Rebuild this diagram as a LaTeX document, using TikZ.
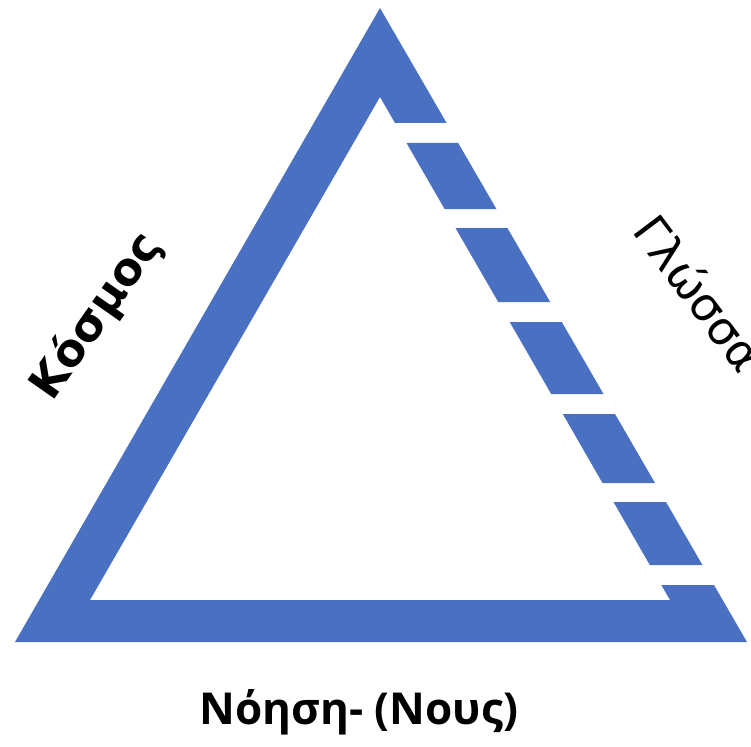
\documentclass[tikz,border=0pt]{standalone}
\usepackage{fontspec}
\newfontfamily\labfont{DejaVu Sans}
\newfontfamily\botfont{Open Sans}
\definecolor{tribl}{HTML}{4A70C1}
\tikzset{
  band/.style={fill=tribl, draw=none},
  sidelab/.style={font=\labfont\bfseries\fontsize{45}{48}\selectfont, inner sep=0pt},
  sidelabthin/.style={font=\labfont\fontsize{46}{48}\selectfont, inner sep=0pt},
  botlab/.style={font=\botfont\bfseries\fontsize{44}{48}\selectfont, inner sep=0pt}
}
\begin{document}
\begin{tikzpicture}[x=1pt,y=-1pt]
\useasboundingbox[fill=white] (0,0) rectangle (751,746);
% main body: apex, left side, bottom, last right piece
\fill[band] (380,8) -- (15,642) -- (747,642) -- (714,585) -- (661.3,585)
  -- (670,600) -- (90,600) -- (380,97) -- (395,123) -- (446.6,123) -- cycle;
% dashes of the right side
\fill[band] (406.5,143) -- (458.2,143) -- (496.4,209) -- (444.6,209) -- cycle;
\fill[band] (455.5,228) -- (507.4,228) -- (550.2,302) -- (498.2,302) -- cycle;
\fill[band] (509.7,322) -- (561.8,322) -- (603.5,394) -- (551.2,394) -- cycle;
\fill[band] (562.8,414) -- (615.0,414) -- (655.0,483) -- (602.5,483) -- cycle;
\fill[band] (613.5,502) -- (666.0,502) -- (702.4,565) -- (649.8,565) -- cycle;
% labels
\node[sidelab, rotate=55] (kosmos) at (97,316) {Κόσμος};
\node[sidelabthin, rotate=-53] (glossa) at (700,293) {Γλώσσα};
\node[botlab] (noisi) at (359,712) {Νόηση- (Νους)};
\end{tikzpicture}
\end{document}
